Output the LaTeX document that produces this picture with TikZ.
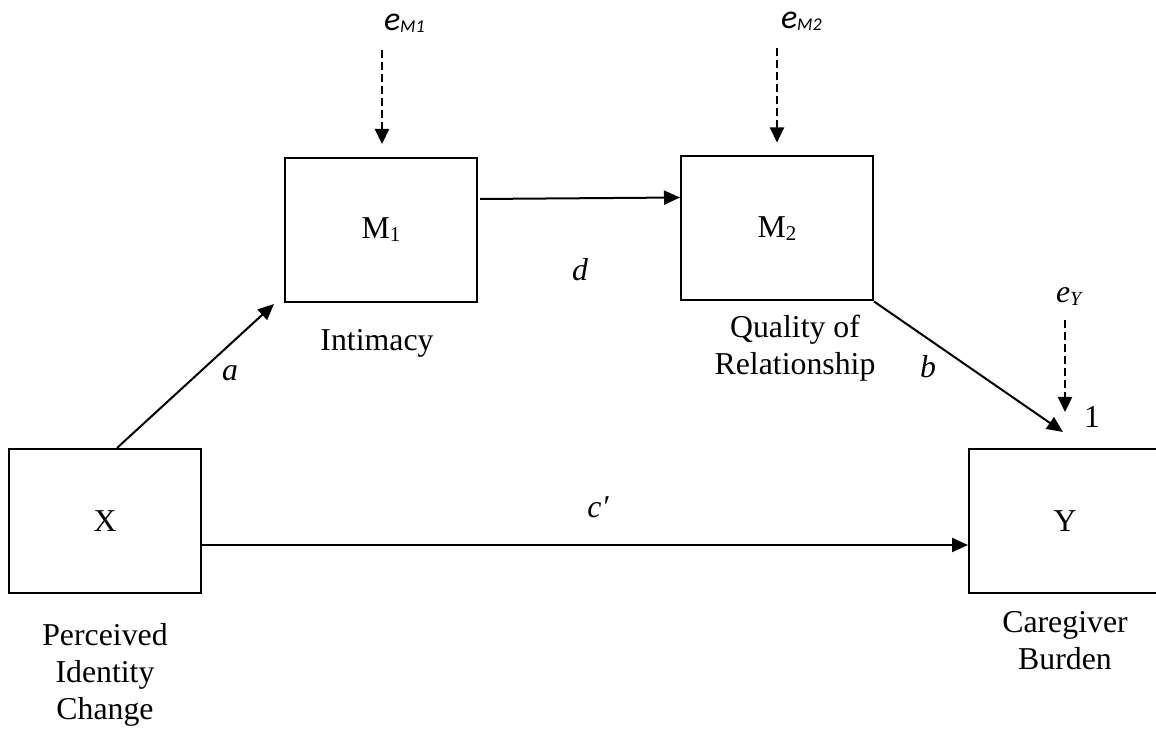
\documentclass[tikz,border=0pt]{standalone}
\usepackage{fontspec}
\setmainfont{Liberation Serif}
\newfontfamily\calibri{Carlito}
\usetikzlibrary{arrows.meta, calc}
\newcommand{\lowsub}[1]{\raisebox{-1.5pt}{\fontsize{10.5}{12}\selectfont #1}}
\tikzset{
  every picture/.style={line width=1pt},
  var/.style={draw, line width=1pt, minimum width=96pt, minimum height=72pt, inner sep=0pt, font=\fontsize{15.9}{18.5}\selectfont},
  caption/.style={align=center, inner sep=0pt, font=\fontsize{15.9}{18.5}\selectfont},
  coef/.style={inner sep=0pt, font=\fontsize{15.9}{18.5}\selectfont\itshape},
  effect/.style={-{Triangle[length=8pt, width=7pt]}, line width=1pt},
  residual/.style={-{Triangle[length=7.5pt, width=7pt]}, line width=1.1pt, dash pattern=on 4pt off 2pt},
  errlabel/.style={anchor=base west, inner sep=0pt, font=\calibri\itshape\fontsize{17}{20}\selectfont},
}

\begin{document}
\begin{tikzpicture}[x=0.5pt, y=-0.5pt]
  \useasboundingbox (0,0) rectangle (1156,732);
  % variables
  \node[var] (X) at (105,521) {X};
  \node[var] (Y) at (1065,521) {Y};
  \node[var] (M1) at (381,230) {M\lowsub{1}};
  \node[var] (M2) at (777,228.5) {M\lowsub{2}};
  % captions
  \node[caption] (capX) at (105,675) {Perceived\\Identity\\Change};
  \node[caption] (capY) at (1065,641) {Caregiver\\Burden};
  \node[caption] (capM1) at (377,343) {Intimacy};
  \node[caption] (capM2) at (795,348) {Quality of\\Relationship};
  % paths
  \draw[effect] ($(X.north)+(12,0)$) -- ($(M1.south west)+(-10,1)$);
  \draw[effect] ($(M1.east)+(2,-31)$) -- ($(M2.west)+(0,-31)$);
  \draw[effect] (M2.south east) -- ($(Y.north)+(-2,-16)$);
  \draw[effect] ($(X.east)+(0,24)$) -- ($(Y.west)+(0,24)$);
  \node[coef] (a) at (230,373) {a};
  \node[coef] (d) at (580,270) {d};
  \node[coef] (b) at (928,367) {b};
  \node[coef] (c) at (598,507) {c′};
  % residuals
  \node[errlabel] (eM1) at (383,31) {e\raisebox{-1pt}{\fontsize{9}{10}\selectfont M1}};
  \node[errlabel] (eM2) at (780,29) {e\raisebox{-1pt}{\fontsize{9}{10}\selectfont M2}};
  \node[errlabel, font=\itshape\fontsize{15.9}{18.5}\selectfont] (eY) at (1055,303) {e\raisebox{-1.5pt}{\fontsize{10}{12}\selectfont Y}};
  \coordinate (sM1) at (382,50);
  \coordinate (sM2) at (777,48);
  \coordinate (sY) at (1065,320);
  \draw[residual] (sM1) -- ($(M1.north)+(1,-13)$);
  \draw[residual] (sM2) -- ($(M2.north)+(0,-13)$);
  \draw[residual] (sY) -- ($(Y.north)+(0,-36)$);
  \node[caption] (one) at (1092,417) {1};
\end{tikzpicture}
\end{document}
